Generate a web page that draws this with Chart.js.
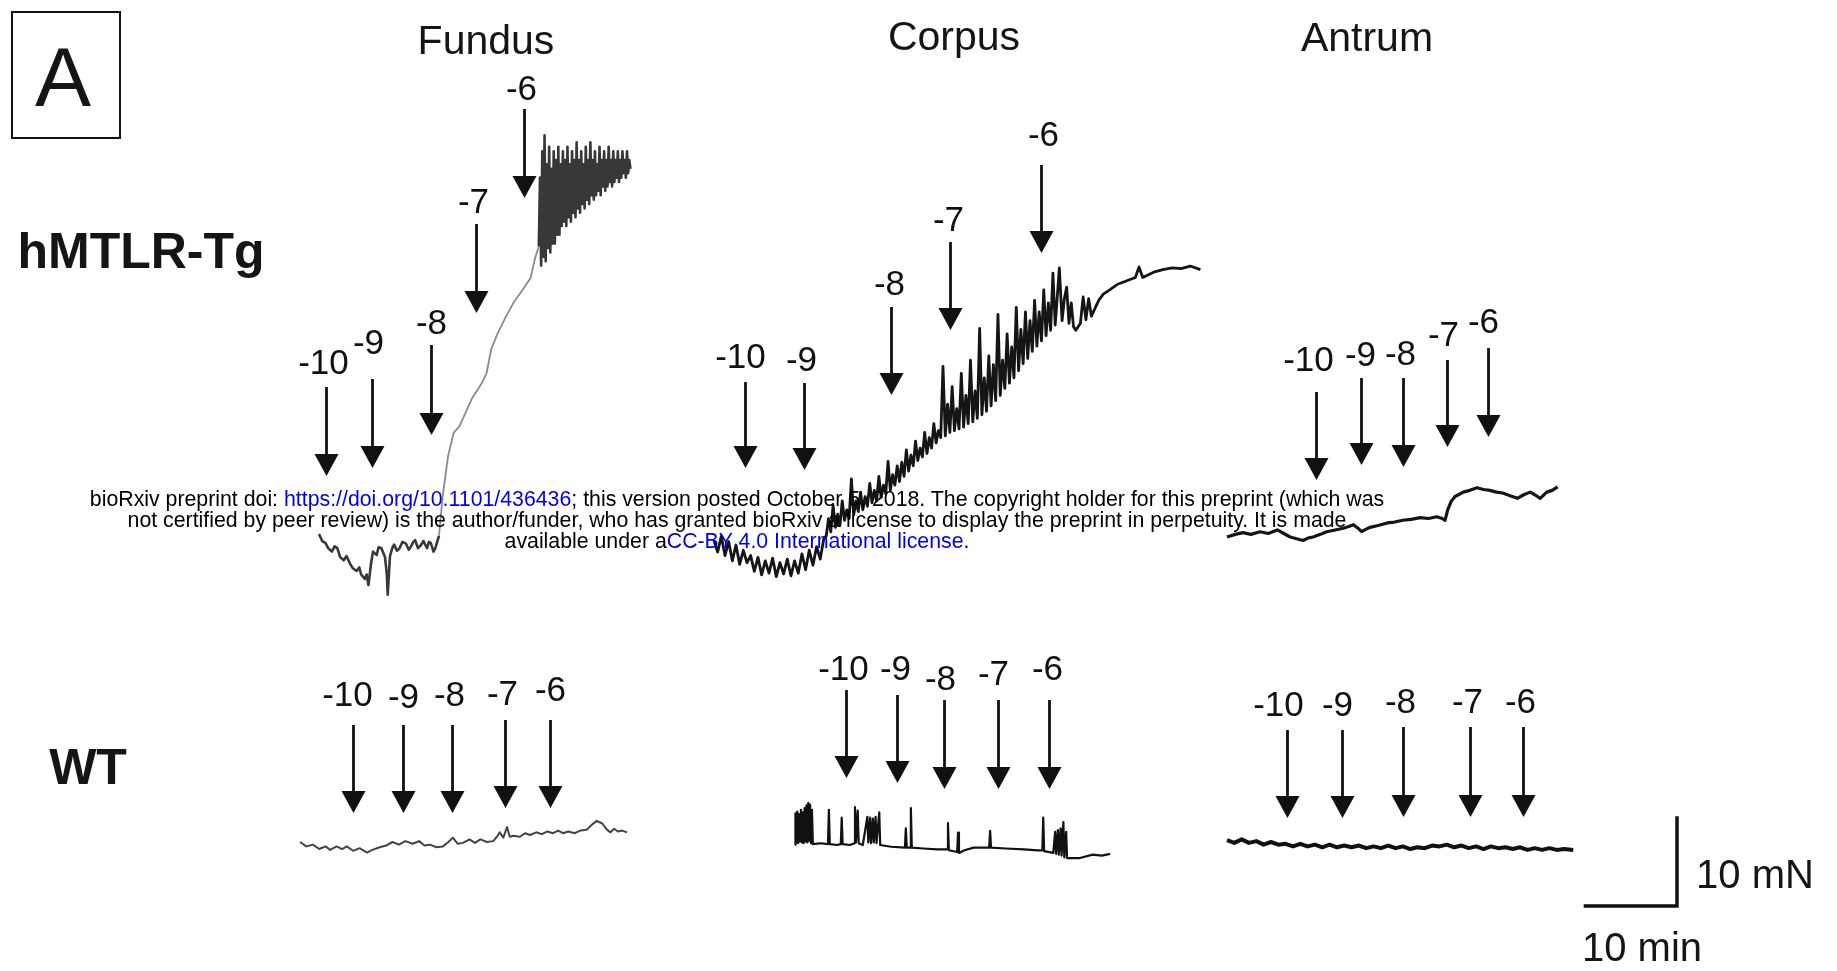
<!DOCTYPE html>
<html>
<head>
<meta charset="utf-8">
<script src="https://cdn.jsdelivr.net/npm/chart.js@4.4.0/dist/chart.umd.min.js"></script>
<style>
html, body { margin: 0; padding: 0; background: #fff; }
#wrap { position: relative; width: 1837px; height: 971px; overflow: hidden; font-family: "Liberation Sans", Arial, sans-serif; color: #151515; }
#c { position: absolute; left: 0; top: 0; }
.t { position: absolute; white-space: nowrap; line-height: 1; transform: translate(-50%, -50%); }
.box { position: absolute; box-sizing: border-box; border: 2px solid #111; }
.wm { position: absolute; left: 737px; top: 489px; transform: translateX(-50%); text-align: center; font-size: 21.3px; line-height: 21px; white-space: nowrap; color: #000; }
.wm a { color: #0000ee; text-decoration: none; }
</style>
</head>
<body>
<div id="wrap">
	<canvas id="c" width="1837" height="971"></canvas>
	<div class="box" style="left:11px;top:11px;width:110px;height:128px;"></div>
	<div class="t" style="left:63px;top:77px;font-size:84px;">A</div>
	<div class="t" style="left:486px;top:40px;font-size:41px;">Fundus</div>
	<div class="t" style="left:954px;top:36px;font-size:41px;">Corpus</div>
	<div class="t" style="left:1367px;top:37px;font-size:41px;">Antrum</div>
	<div class="t" style="left:141px;top:251px;font-size:50px;font-weight:bold;">hMTLR-Tg</div>
	<div class="t" style="left:88px;top:767px;font-size:50px;font-weight:bold;">WT</div>
	<div class="t" style="left:1755px;top:874px;font-size:40px;">10 mN</div>
	<div class="t" style="left:1642px;top:947px;font-size:40px;">10 min</div>
	<div class="wm">bioRxiv preprint doi: <a>https://doi.org/10.1101/436436</a>; this version posted October 5, 2018. The copyright holder for this preprint (which was<br>not certified by peer review) is the author/funder, who has granted bioRxiv a license to display the preprint in perpetuity. It is made<br>available under a<a>CC-BY 4.0 International license</a>.</div>
</div>
<script>
// figure scale, from the 10 min / 10 mN bar
var PX_PER_MIN = 9.16;
var PX_PER_MN = 8.8;
var W = 1837, H = 971;

// log concentration of each addition
var doses = ['-10', '-9', '-8', '-7', '-6'];

// traces: [time (min) from start of recording, force (mN) from start level]
var tgFundus = [[0,0],[0.35,-0.8],[0.7,-1.0],[1.0,-1.6],[1.4,-2.0],[1.7,-1.4],[2.0,-1.6],[2.3,-2.6],[2.7,-3.0],[3.0,-2.5],[3.4,-3.4],[3.7,-3.9],[4.1,-4.2],[4.4,-3.8],[4.6,-4.6],[5.0,-5.1],[5.2,-4.6],[5.4,-5.8],[5.7,-3.2],[5.9,-2.0],[6.3,-2.4],[6.5,-1.5],[6.8,-1.6],[7.0,-2.1],[7.2,-2.6],[7.4,-4.5],[7.5,-6.9],[7.75,-2.5],[8.0,-1.6],[8.2,-1.2],[8.5,-1.9],[8.8,-1.6],[9.1,-0.9],[9.5,-1.1],[9.8,-1.8],[10.0,-1.5],[10.3,-0.9],[10.5,-0.7],[10.8,-1.6],[11.1,-1.3],[11.4,-0.8],[11.8,-1.6],[12.0,-0.9],[12.2,-1.0],[12.5,-2.0],[12.7,-1.6],[13.1,-0.2],[13.5,4.3],[14.1,8.9],[14.7,11.5],[15.3,12.2],[15.8,13.3],[16.3,14.5],[16.8,15.6],[17.4,16.5],[17.9,17.4],[18.3,18.3],[18.8,21.0],[19.5,22.8],[20.4,24.7],[21.3,26.4],[22.2,27.7],[23.1,29.1],[23.6,31.4],[24.0,32.7],
	[24.125,40.5],[24.25,30.5],[24.375,43.5],[24.5,31.5],[24.625,45.3],[24.75,31],[24.875,42],[25.0,32.5],[25.125,44],[25.25,32],[25.375,41.5],[25.5,33],[25.625,43.5],[25.75,33],[25.875,42.5],[26.0,34],[26.125,44],[26.25,34],[26.375,42],[26.5,35],[26.625,43.5],[26.75,35.5],[26.875,42.5],[27.0,35],[27.125,44],[27.25,36],[27.375,42],[27.5,35.5],[27.625,43.5],[27.75,36.5],[27.875,42.5],[28.0,36],[28.125,44.5],[28.25,37],[28.375,42.5],[28.5,36.5],[28.625,43.5],[28.75,37.5],[28.875,42],[29.0,37],[29.125,44],[29.25,38],[29.375,42.5],[29.5,37.5],[29.625,44.5],[29.75,38.5],[29.875,42.5],[30.0,38],[30.125,43.5],[30.25,38.5],[30.375,42],[30.5,39],[30.625,44],[30.75,38.5],[30.875,42.5],[31.0,39.5],[31.125,43.5],[31.25,39],[31.375,42.5],[31.5,39.5],[31.625,44],[31.75,40],[31.875,42.5],[32.0,39.5],[32.125,43.5],[32.25,40],[32.375,42.5],[32.5,40.5],[32.625,43.5],[32.75,40],[32.875,42.5],[33.0,40.5],[33.125,43.5],[33.25,41],[33.375,42.5],[33.5,40.5],[33.625,43.5],[33.75,41],[33.875,42.5],[34.0,41.5]];

var tgCorpus = [[0,0.5],[0.4,-0.8],[0.8,1.0],[1.2,-1.2],[1.6,0.4],[2.0,-1.8],[2.4,0.0],[2.8,-2.2],[3.2,-0.6],[3.6,-2.0],[4.0,-1.2],[4.4,-3.0],[4.8,-1.4],[5.2,-3.4],[5.6,-1.8],[6.0,-3.2],[6.4,-1.5],[6.8,-3.6],[7.2,-2.0],[7.6,-3.3],[8.0,-1.6],[8.4,-3.5],[8.8,-1.8],[9.2,-3.2],[9.6,-1.0],[10.0,-2.8],[10.4,-0.6],[10.8,-2.3],[11.2,-0.2],[11.6,-1.6],[12.0,0.8],
	[12.25,1.0],[12.5,3.0],[12.75,1.5],[13.0,4.5],[13.25,2.0],[13.5,3.5],[13.75,2.2],[14.0,5.0],[14.25,2.8],[14.5,4.0],[14.75,3.0],[15.0,7.5],[15.25,3.4],[15.5,5.0],[15.75,3.8],[16.0,6.0],[16.25,4.0],[16.5,5.5],[16.75,4.4],[17.0,7.0],[17.25,4.8],[17.5,6.2],[17.75,5.0],[18.0,7.8],[18.25,5.4],[18.5,6.8],[18.75,5.8],[19.0,9.5],[19.25,6.2],[19.5,8.0],[19.75,6.8],[20.0,9.0],[20.25,7.2],[20.5,9.4],[20.75,7.8],[21.0,10.8],[21.25,8.4],[21.5,10.2],[21.75,9.0],[22.0,11.8],[22.25,9.6],[22.5,11.0],[22.75,10.0],[23.0,12.8],[23.25,10.4],[23.5,12.2],[23.75,11.0],[24.0,13.8],[24.25,11.6],[24.5,13.0],[24.75,12.2],[25.0,20.3],[25.25,12.4],[25.5,16.0],[25.75,12.8],[26.0,18.0],[26.25,13.0],[26.5,15.5],[26.75,13.2],[27.0,19.5],[27.25,13.4],[27.5,17.0],[27.75,13.8],[28.0,21.0],[28.25,14.0],[28.5,17.5],[28.75,14.4],[29.0,24.6],[29.25,14.8],[29.5,19.0],[29.75,15.2],[30.0,21.5],[30.25,15.8],[30.5,20.5],[30.75,16.4],[31.0,26.2],[31.25,17.0],[31.5,21.0],[31.75,17.8],[32.0,24.0],[32.25,18.4],[32.5,22.5],[32.75,19.0],[33.0,27.0],[33.25,19.8],[33.5,24.5],[33.75,20.6],[34.0,26.5],[34.25,21.2],[34.5,25.5],[34.75,22.0],[35.0,27.8],[35.25,22.6],[35.5,26.5],[35.75,23.2],[36.0,29.0],[36.25,23.8],[36.5,27.5],[36.75,24.4],[37.0,30.9],[37.25,25.0],[37.5,28.5],[37.7,31.5],[38.0,25.5],[38.25,28.0],[38.5,29.3],[38.75,25.2],[39.0,27.5],[39.25,24.8],[39.5,24.4],
	[40.0,25.2],[40.3,28.2],[40.6,25.6],[40.9,28.0],[41.2,26.0],[42.0,27.8],[42.5,28.5],[43.2,29.0],[44.0,29.6],[45.0,30.0],[46.0,30.4],[46.4,31.6],[46.8,30.4],[48.0,31.0],[49.0,31.3],[50.0,31.5],[51.0,31.4],[52.0,31.7],[53.1,31.3]];

var tgAntrum = [[0,0],[0.9,0.3],[1.75,0.5],[2.6,0.3],[3.6,0.6],[4.5,0.4],[5.5,0.8],[6.2,0.4],[6.9,0.0],[7.6,-0.2],[8.3,-0.4],[8.9,-0.1],[9.4,0.0],[10.2,0.3],[10.9,0.6],[11.8,0.8],[12.7,1.0],[13.3,1.2],[13.8,1.4],[14.3,1.0],[14.7,0.6],[15.2,0.9],[15.6,1.1],[16.5,1.3],[17.5,1.6],[18.3,1.7],[19.2,1.9],[20.1,2.0],[21.1,2.2],[22.0,2.1],[22.9,2.3],[23.5,2.1],[23.8,1.9],[24.1,3.1],[24.5,4.1],[24.9,4.6],[25.8,5.1],[26.5,5.3],[27.3,5.6],[28.0,5.4],[28.7,5.3],[29.4,5.1],[30.1,5.0],[30.9,4.7],[31.7,4.4],[32.4,4.8],[33.1,5.1],[33.6,4.8],[34.2,4.4],[34.9,5.1],[35.5,5.3],[36.1,5.7]];

var wtFundus = [[0,0],[0.7,-0.5],[1.4,-0.3],[2.1,-0.8],[2.8,-0.5],[3.3,-0.9],[4.0,-0.5],[4.6,-0.8],[5.1,-0.5],[5.8,-1.0],[6.5,-0.7],[7.3,-1.2],[7.9,-0.9],[8.7,-0.6],[9.4,-0.4],[10.1,0.0],[10.8,-0.3],[11.5,0.1],[12.3,-0.2],[13.0,0.1],[13.6,-0.4],[14.2,-0.3],[14.9,-0.6],[15.6,-0.5],[16.2,0.0],[16.7,0.5],[17.2,-0.2],[17.8,-0.1],[18.5,0.3],[19.1,-0.1],[19.7,0.3],[20.4,0.0],[21.1,0.1],[21.5,0.6],[21.8,1.1],[22.2,0.5],[22.6,1.7],[22.9,0.6],[23.3,0.7],[24.0,0.6],[24.6,1.0],[25.1,0.8],[25.8,1.1],[26.4,0.9],[27.0,1.2],[27.6,1.0],[28.2,1.3],[28.7,1.0],[29.3,1.2],[30.0,1.0],[30.6,1.3],[31.3,1.4],[31.9,2.0],[32.4,2.4],[33.0,2.1],[33.5,1.4],[33.9,1.1],[34.3,1.5],[34.7,1.2],[35.2,1.3],[35.7,1.1]];

var wtCorpus = [[0,0],[0.05,3.6],[0.15,0.3],[0.25,3.8],[0.35,0.2],[0.45,3.5],[0.55,0.4],[0.65,4.0],[0.75,0.3],[0.85,3.7],[0.95,0.2],[1.05,4.2],[1.15,0.4],[1.25,4.5],[1.35,0.3],[1.45,4.8],[1.55,0.5],[1.65,4.6],[1.75,0.2],[1.85,4.0],[1.95,0.1],
	[2.8,0.2],[3.6,0.1],[3.7,4.0],[3.8,0.1],[4.6,0.0],[5.0,0.1],[5.1,3.1],[5.2,0.1],[6.0,0.0],[6.5,0.2],[6.55,4.3],[6.65,0.3],[6.85,3.9],[6.95,0.2],[7.4,0.0],[7.9,3.2],[8.0,0.3],[8.2,3.1],[8.3,0.2],[8.5,3.0],[8.6,0.3],[8.8,3.2],[8.9,0.2],[9.2,3.7],[9.3,0.0],[10.5,-0.2],[12.0,-0.3],[12.1,1.9],[12.2,-0.3],[12.6,-0.3],[12.65,4.2],[12.75,-0.3],[14.0,-0.4],[15.5,-0.5],[16.6,-0.5],[16.7,2.5],[16.8,-0.6],[17.7,-0.8],[17.8,1.4],[17.9,-0.9],[18.5,-0.6],[19.5,-0.3],[21.2,-0.3],[21.3,1.6],[21.4,-0.3],[23.0,-0.4],[25.0,-0.5],[26.5,-0.6],[27.0,-0.6],[27.1,3.1],[27.2,-0.7],[28.2,-0.9],[28.4,1.5],[28.5,-1.0],[28.7,1.7],[28.8,-1.1],[29.0,1.9],[29.1,-1.2],[29.3,2.6],[29.4,-1.4],[29.6,1.5],[29.7,-1.5],[31.0,-1.5],[32.5,-1.1],[33.5,-1.2],[34.4,-1.0]];

var wtAntrum = [[0,0.2],[0.8,-0.1],[1.6,0.3],[2.4,-0.1],[3.2,0.1],[4.0,-0.3],[4.8,0.0],[5.6,-0.3],[6.4,-0.2],[7.2,-0.5],[8.0,-0.2],[8.8,-0.5],[9.6,-0.3],[10.4,-0.6],[11.2,-0.3],[12.0,-0.6],[12.8,-0.4],[13.6,-0.6],[14.4,-0.4],[15.2,-0.7],[16.0,-0.5],[16.8,-0.7],[17.6,-0.4],[18.4,-0.7],[19.2,-0.5],[20.0,-0.8],[20.8,-0.6],[21.6,-0.7],[22.4,-0.4],[23.2,-0.5],[24.0,-0.3],[24.8,-0.6],[25.6,-0.4],[26.4,-0.7],[27.2,-0.5],[28.0,-0.8],[28.8,-0.5],[29.6,-0.7],[30.4,-0.6],[31.2,-0.8],[32.0,-0.6],[32.8,-0.9],[33.6,-0.7],[34.4,-0.9],[35.2,-0.7],[36.0,-0.9],[36.8,-0.8],[37.8,-0.9]];

// time of each addition (min from start of recording)
var tgFundusAdds = [0.76, 5.79, 12.23, 17.14, 22.38];
var tgCorpusAdds = [3.38, 9.83, 19.32, 25.76, 35.7];
var tgAntrumAdds = [9.72, 14.63, 19.21, 24.02, 28.49];
var wtFundusAdds = [5.79, 11.24, 16.59, 22.38, 27.29];
var wtCorpusAdds = [5.57, 11.14, 16.27, 22.16, 27.73];
var wtAntrumAdds = [6.55, 12.55, 19.21, 26.53, 32.31];

// panel placement (px): left = start of trace, base = start level
// arrows: [shaft top, tip, label centre y, label x shift]
var panels = [
	{ trace: tgFundus, adds: tgFundusAdds, left: 319, base: 534, color: '#383838', width: 2.6,
		arrows: [[387,476,361,-3],[379,468,341,-4],[345,435,321,0],[224,313,200,-3],[109,198,87,-3]] },
	{ trace: tgCorpus, adds: tgCorpusAdds, left: 714, base: 545, color: '#151515', width: 2.8,
		arrows: [[382,468,355,-5],[383,470,358,-3],[307,395,282,-2],[242,330,218,-2],[165,253,133,2]] },
	{ trace: tgAntrum, adds: tgAntrumAdds, left: 1227, base: 537, color: '#151515', width: 3.2,
		arrows: [[392,480,358,-8],[378,465,353,-1],[378,467,352,-3],[360,447,333,-4],[348,437,320,-5]] },
	{ trace: wtFundus, adds: wtFundusAdds, left: 300, base: 842, color: '#444', width: 2,
		arrows: [[725,813,693,-6],[725,813,695,0],[725,813,693,-3],[720,808,692,-3],[720,808,688,0]] },
	{ trace: wtCorpus, adds: wtCorpusAdds, left: 795, base: 845, color: '#111', width: 2.2,
		arrows: [[690,778,667,-3],[695,783,667,-2],[700,789,677,-4],[700,789,672,-5],[700,789,667,-2]] },
	{ trace: wtAntrum, adds: wtAntrumAdds, left: 1227, base: 842, color: '#111', width: 4,
		arrows: [[730,818,703,-9],[730,818,703,-5],[727,817,700,-3],[727,817,700,-3],[727,817,700,-3]] }
];

function originX(p) { return p.left / PX_PER_MIN; }
function originY(p) { return (H - p.base) / PX_PER_MN; }

function inRise(c, p) {
	var t0 = c.p0.parsed.x - originX(p), t1 = c.p1.parsed.x - originX(p);
	return t0 >= 13.1 && t1 <= 24.0;
}

var datasets = panels.map(function(p, k) {
	return {
		data: p.trace.map(function(d) { return { x: originX(p) + d[0], y: originY(p) + d[1] }; }),
		borderColor: p.color,
		borderWidth: p.width,
		pointRadius: 0,
		tension: 0,
		fill: false,
		clip: false,
		borderJoinStyle: 'round',
		// the fast rise of the fundus trace is fainter in the original
		segment: k === 0 ? {
			borderColor: function(c) { return inRise(c, p) ? '#8a8a8a' : undefined; },
			borderWidth: function(c) { return inRise(c, p) ? 1.8 : undefined; }
		} : undefined
	};
});

// arrows, dose labels and the scale bar
var annotations = {
	id: 'annotations',
	afterDatasetsDraw: function(chart) {
		var ctx = chart.ctx, xs = chart.scales.x, ys = chart.scales.y;
		ctx.save();
		ctx.fillStyle = '#111';
		ctx.strokeStyle = '#111';
		ctx.font = '35px "Liberation Sans", Arial, sans-serif';
		ctx.textAlign = 'center';
		ctx.textBaseline = 'alphabetic';
		panels.forEach(function(p) {
			p.adds.forEach(function(t, i) {
				var a = p.arrows[i];
				var x = Math.round(xs.getPixelForValue(originX(p) + t)) + 0.5;
				ctx.lineWidth = 2.8;
				ctx.beginPath();
				ctx.moveTo(x, a[0]);
				ctx.lineTo(x, a[1] - 18);
				ctx.stroke();
				ctx.beginPath();
				ctx.moveTo(x - 12, a[1] - 22);
				ctx.lineTo(x + 12, a[1] - 22);
				ctx.lineTo(x, a[1]);
				ctx.closePath();
				ctx.fill();
				ctx.fillText(doses[i], x + a[3], a[2] + 12.5);
			});
		});
		// 10 min x 10 mN bar, corner at bottom right
		var cx = xs.getValueForPixel(1677), cy = ys.getValueForPixel(906);
		ctx.lineWidth = 3.5;
		ctx.lineCap = 'square';
		ctx.beginPath();
		ctx.moveTo(xs.getPixelForValue(cx - 10), ys.getPixelForValue(cy));
		ctx.lineTo(xs.getPixelForValue(cx), ys.getPixelForValue(cy));
		ctx.lineTo(xs.getPixelForValue(cx), ys.getPixelForValue(cy + 10));
		ctx.stroke();
		ctx.restore();
	}
};

var ctx = document.getElementById('c');
var chart = new Chart(ctx, {
	type: 'line',
	data: { datasets: datasets },
	options: {
		responsive: false,
		animation: false,
		devicePixelRatio: 1,
		events: [],
		layout: { padding: 0 },
		scales: {
			x: { type: 'linear', min: 0, max: W / PX_PER_MIN, display: false },
			y: { type: 'linear', min: 0, max: H / PX_PER_MN, display: false }
		},
		plugins: {
			legend: { display: false },
			tooltip: { enabled: false },
			title: { display: false }
		}
	},
	plugins: [annotations]
});
</script>
</body>
</html>
